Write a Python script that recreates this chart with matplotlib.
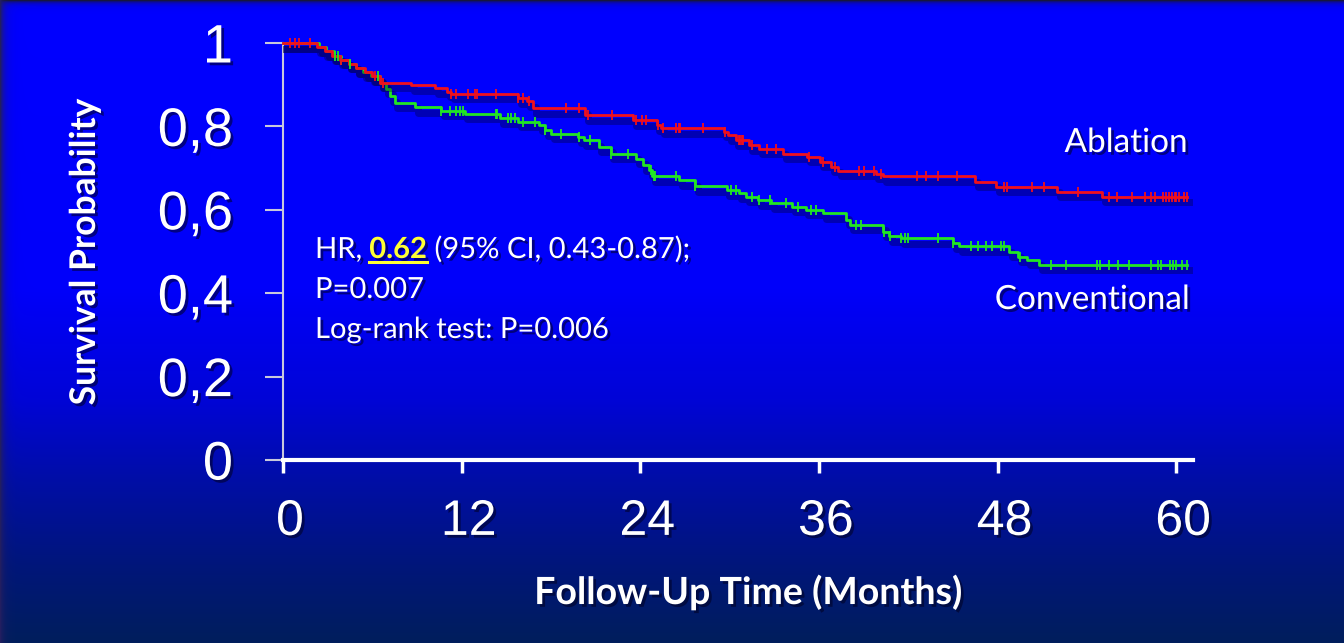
import numpy as np
import matplotlib
matplotlib.use('Agg')
import matplotlib.pyplot as plt
import matplotlib.patheffects as pe
from matplotlib.lines import Line2D
from matplotlib.transforms import IdentityTransform, ScaledTranslation

W, H = 1344, 643

# Kaplan-Meier steps: time of each drop (months) and survival after it
abl_t = [0, 2.3, 2.8, 3.3, 3.8, 4.4, 4.9, 5.5, 6.0, 6.5, 8.6, 10.2, 11.0, 11.3,
         15.8, 16.4, 16.8, 20.3, 23.5, 25.1, 25.4, 29.6, 29.9, 30.4, 31.3, 32.0,
         33.6, 35.2, 36.1, 36.8, 37.3, 39.8, 40.3, 46.5, 47.9, 52.0, 55.0]
abl_s = [1.0, 0.99, 0.98, 0.97, 0.96, 0.95, 0.94, 0.93, 0.92, 0.905, 0.899, 0.891,
         0.883, 0.878, 0.868, 0.86, 0.843, 0.827, 0.815, 0.803, 0.795, 0.787, 0.779,
         0.767, 0.755, 0.747, 0.735, 0.727, 0.715, 0.703, 0.694, 0.686, 0.68, 0.667,
         0.655, 0.643, 0.631]
abl_cens = [0.5, 0.8, 1.1, 1.8, 3.9, 6.2, 6.7, 11.3, 11.6, 12.4, 12.9, 13.0, 14.3,
            15.8, 16.1, 16.5, 19.0, 19.9, 20.5, 22.1, 23.7, 24.1, 24.4, 25.2, 25.5,
            26.4, 26.6, 26.7, 28.2, 29.7, 30.6, 30.7, 30.8, 30.9, 31.5, 32.5, 33.1,
            35.3, 36.3, 37.1, 38.7, 39.0, 39.7, 40.2, 42.6, 43.2, 44.0, 45.3, 48.4,
            48.6, 50.3, 51.1, 53.4, 55.5, 56.0, 57.0, 57.9, 58.3, 58.6, 59.1, 59.3,
            59.5, 59.7, 59.9, 60.0, 60.2, 60.5, 60.7]

conv_t = [0, 2.4, 2.9, 3.4, 3.9, 4.4, 4.9, 5.4, 5.9, 6.5, 6.9, 7.2, 7.5, 8.9, 10.6,
          12.2, 14.6, 15.8, 17.2, 17.6, 18.0, 19.8, 20.2, 21.2, 22.0, 23.7, 24.2,
          24.6, 24.8, 26.6, 27.7, 29.8, 30.6, 31.1, 31.9, 32.8, 34.2, 35.1, 36.3,
          37.8, 38.1, 40.3, 40.7, 41.5, 45.0, 45.4, 48.8, 49.4, 50.0, 50.8]
conv_s = [1.0, 0.99, 0.98, 0.97, 0.96, 0.95, 0.94, 0.93, 0.92, 0.905, 0.89, 0.873,
          0.857, 0.846, 0.838, 0.83, 0.819, 0.811, 0.803, 0.791, 0.782, 0.774, 0.767,
          0.751, 0.735, 0.723, 0.707, 0.695, 0.681, 0.671, 0.657, 0.647, 0.64, 0.631,
          0.623, 0.616, 0.607, 0.6, 0.592, 0.576, 0.564, 0.547, 0.536, 0.532, 0.52,
          0.512, 0.5, 0.488, 0.48, 0.468]
conv_cens = [3.5, 3.7, 3.9, 4.5, 6.4, 10.6, 11.2, 11.6, 11.9, 12.1, 14.3, 14.4, 15.1,
             15.3, 15.6, 16.1, 16.9, 17.6, 18.7, 19.9, 20.6, 22.0, 23.2, 24.7, 24.9,
             25.0, 26.4, 27.7, 30.1, 30.4, 31.5, 32.0, 32.7, 33.8, 34.6, 35.5, 35.8,
             38.5, 38.8, 40.4, 40.8, 41.5, 41.8, 42.0, 44.0, 45.0, 46.2, 46.7, 47.2,
             47.6, 48.2, 48.4, 49.5, 51.6, 52.6, 54.7, 54.9, 55.5, 56.1, 56.8, 58.3,
             58.8, 59.0, 59.6, 59.8, 60.0, 60.4, 60.7]
t_end = 60.7

x_ticks = [0, 12, 24, 36, 48, 60]
y_ticks = [0, 0.2, 0.4, 0.6, 0.8, 1.0]
y_labels = ['0', '0,2', '0,4', '0,6', '0,8', '1']

RED = '#f0101c'
GREEN = '#22e622'

fig = plt.figure(figsize=(W / 100, H / 100), dpi=100)

# slide background: blue vertical gradient with a dark frame top/left
bg = fig.add_axes([0, 0, 1, 1])
bg.axis('off')
yy = np.linspace(0, 1, H)
stop = [0, 0.45, 0.62, 0.75, 0.88, 1.0]
g = np.interp(yy, stop, [0, 0, 4, 14, 22, 30])
b = np.interp(yy, stop, [255, 250, 215, 165, 122, 92])
img = np.zeros((H, W, 3))
img[:, :, 1] = g[:, None]
img[:, :, 2] = b[:, None]
dark = np.array([22, 22, 62])
wt = np.exp(-np.arange(H) / 2.5)[:, None, None]
wl = np.exp(-np.arange(W) / 4.0)[None, :, None]
img = img * (1 - wt) + dark * wt
img = img * (1 - wl) + np.array([34, 30, 96]) * wl
bg.imshow(img / 255, aspect='auto', extent=[0, 1, 0, 1])
bg.set_xlim(0, 1)
bg.set_ylim(0, 1)

ax = fig.add_axes([283 / W, (H - 460) / H, 909.6 / W, 417 / H])
ax.patch.set_alpha(0)
ax.set_xlim(0, 61.1)
ax.set_ylim(0, 1)
for s in ['top', 'right']:
    ax.spines[s].set_visible(False)
ax.spines['left'].set_color('#c8c8dc')
ax.spines['left'].set_linewidth(1.5)
ax.spines['bottom'].set_color('white')
ax.spines['bottom'].set_linewidth(3)

txt_shadow = [pe.withSimplePatchShadow(offset=(2, -2), shadow_rgbFace='#000020', alpha=0.55)]

ax.set_xticks(x_ticks)
ax.set_yticks(y_ticks)
ax.set_yticklabels(y_labels)
ax.tick_params(axis='y', length=13, width=1.5, color='#c8c8dc', pad=23,
               labelsize=39, labelcolor='white')
ax.tick_params(axis='x', length=9, width=2.5, color='white', pad=19,
               labelsize=36, labelcolor='white')
for lab in ax.get_yticklabels():
    lab.set_fontfamily(['Liberation Sans', 'DejaVu Sans'])
    lab.set_path_effects(txt_shadow)
nudge = ScaledTranslation(7 / 100, 0, fig.dpi_scale_trans)
for lab in ax.get_xticklabels():
    lab.set_fontfamily(['Liberation Sans Narrow', 'Liberation Sans'])
    lab.set_path_effects(txt_shadow)
    lab.set_transform(lab.get_transform() + nudge)

line_fx = [pe.SimpleLineShadow(offset=(2, -4), shadow_color='#000030', alpha=0.35, linewidth=5),
           pe.Normal()]


def km_curve(t, s, cens, color):
    xs = list(t) + [t_end]
    ys = list(s) + [s[-1]]
    ax.plot(xs, ys, drawstyle='steps-post', color=color, lw=2.0,
            path_effects=line_fx, clip_on=False, zorder=3)
    idx = np.searchsorted(t, cens, side='right') - 1
    cy = np.array(s)[idx]
    ax.plot(cens, cy, ls='none', marker='|', ms=7, mew=1.3, color=color,
            clip_on=False, zorder=4)


km_curve(conv_t, conv_s, conv_cens, GREEN)
km_curve(abl_t, abl_s, abl_cens, RED)

fam = ['Lato', 'DejaVu Sans']
fig.text(85 / W, 1 - 252 / H, 'Survival Probability', rotation=90, ha='center', va='center',
         fontsize=25.5, fontweight='bold', color='white', family=fam, path_effects=txt_shadow)
fig.text(748 / W, 1 - 592 / H, 'Follow-Up Time (Months)', ha='center', va='center',
         fontsize=27, fontweight='bold', color='white', family=fam, path_effects=txt_shadow)

fig.text(1188 / W, 1 - 143 / H, 'Ablation', ha='right', va='center', fontsize=24,
         color='white', family=fam, path_effects=txt_shadow)
fig.text(1190 / W, 1 - 300 / H, 'Conventional', ha='right', va='center', fontsize=24,
         color='white', family=fam, path_effects=txt_shadow)

# hazard ratio block, the HR value highlighted
fs = 21
t1 = fig.text(315 / W, 1 - 258 / H, 'HR, ', ha='left', va='baseline', fontsize=fs,
              color='white', family=fam, path_effects=txt_shadow)
t2 = fig.text(0, 0, '0.62', fontsize=fs, fontweight='bold', color='#ffff33', family=fam,
              path_effects=txt_shadow)
t3 = fig.text(0, 0, ' (95% CI, 0.43-0.87);', fontsize=fs, color='white', family=fam,
              path_effects=txt_shadow)
fig.text(315 / W, 1 - 298 / H, 'P=0.007', ha='left', va='baseline', fontsize=fs,
         color='white', family=fam, path_effects=txt_shadow)
fig.text(315 / W, 1 - 338 / H, 'Log-rank test: P=0.006', ha='left', va='baseline', fontsize=fs,
         color='white', family=fam, path_effects=txt_shadow)

fig.canvas.draw()
r = fig.canvas.get_renderer()
bb1 = t1.get_window_extent(r)
t2.set_position((bb1.x1 / W, 1 - 258 / H))
t2.set_va('baseline')
fig.canvas.draw()
bb2 = t2.get_window_extent(r)
t3.set_position((bb2.x1 / W, 1 - 258 / H))
t3.set_va('baseline')
uy = H - 262
fig.add_artist(Line2D([bb2.x0, bb2.x1], [uy, uy], transform=IdentityTransform(),
                      color='#ffff33', lw=2.2))

fig.savefig('out.png', dpi=100)
